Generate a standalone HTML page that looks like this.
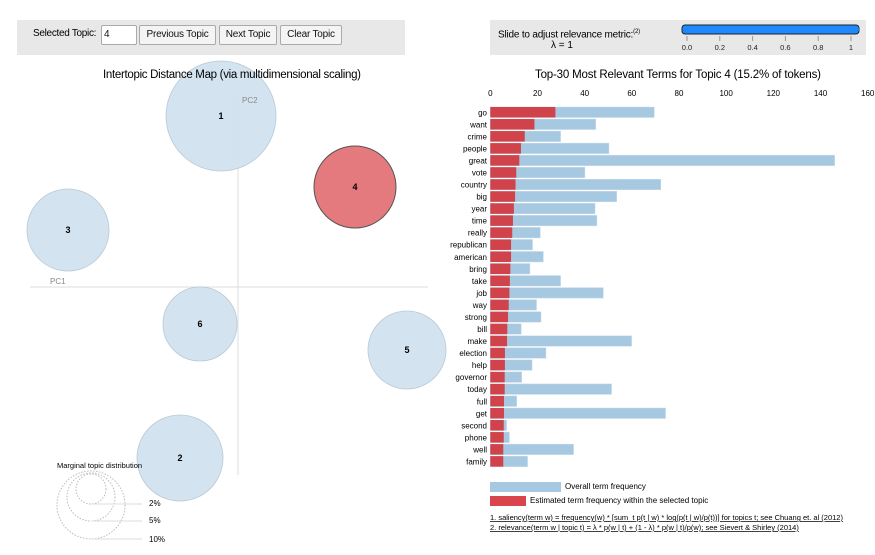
<!DOCTYPE html>
<html><head><meta charset="utf-8">
<style>
body{margin:0;width:875px;height:555px;background:#fff;font-family:"Liberation Sans",Arial,sans-serif;overflow:hidden;position:relative}
.box{position:absolute;background:#e8e8e8}
.btn{position:absolute;top:25px;height:18px;border:1px solid #aaa;border-radius:2px;background:#f4f4f4;font-size:10px;line-height:18px;text-align:center;color:#111;letter-spacing:-0.2px}
</style></head><body>
<div class="box" style="left:17px;top:20px;width:388px;height:35px"></div>
<div style="position:absolute;left:33px;top:28px;font-size:10px;letter-spacing:-0.3px">Selected Topic:</div>
<div class="btn" style="left:101px;width:32px;text-align:left;padding-left:2px;background:#fff">4</div>
<div class="btn" style="left:139px;width:75px">Previous Topic</div>
<div class="btn" style="left:219px;width:56px">Next Topic</div>
<div class="btn" style="left:280px;width:60px">Clear Topic</div>
<div class="box" style="left:490px;top:20px;width:376px;height:35px"></div>
<div style="position:absolute;left:498px;top:29px;font-size:10px;letter-spacing:-0.2px">Slide to adjust relevance metric:<sup style="font-size:6px">(2)</sup></div>
<div style="position:absolute;left:551px;top:40px;font-size:10px">λ = 1</div>
<svg style="position:absolute;left:0;top:0" width="875" height="555">
<g>
<rect x="682" y="25" width="177" height="9" rx="3" fill="#1e88ff" stroke="#222" stroke-width="1"/>
<circle cx="855" cy="29.5" r="4" fill="#1e88ff"/>
</g>
<g id="slticks" font-size="7.5" fill="#222" text-anchor="middle"></g>
<line x1="238" y1="95" x2="238" y2="475" stroke="#ddd"/>
<line x1="30" y1="287" x2="428" y2="287" stroke="#ddd"/>
<g id="topics"></g>
<text x="242" y="103" font-size="8" fill="#888">PC2</text>
<text x="50" y="284" font-size="8" fill="#888">PC1</text>
<text x="232" y="78" font-size="11.5" text-anchor="middle" textLength="258">Intertopic Distance Map (via multidimensional scaling)</text>
<text x="678" y="78" font-size="11.5" text-anchor="middle" textLength="286">Top-30 Most Relevant Terms for Topic 4 (15.2% of tokens)</text>
<g>
<text x="57" y="468" font-size="7.5">Marginal topic distribution</text>
<g fill="none" stroke="#bbb" stroke-dasharray="1.5,1.5">
<circle cx="91" cy="489" r="15"/><circle cx="91" cy="497" r="24"/><circle cx="91" cy="505" r="34"/></g>
<g stroke="#ddd"><line x1="91" y1="504" x2="142" y2="504"/><line x1="91" y1="521" x2="142" y2="521"/><line x1="91" y1="539" x2="142" y2="539"/></g>
<g font-size="8"><text x="149" y="506">2%</text><text x="149" y="523">5%</text><text x="149" y="542">10%</text></g>
</g>
<g id="xticks" font-size="8" text-anchor="middle"></g>
<g id="bars"></g>
<g>
<rect x="490" y="482" width="71" height="10" fill="#a6c8e0"/>
<text x="565" y="489" font-size="8">Overall term frequency</text>
<rect x="490" y="496" width="36" height="10" fill="#d9454d"/>
<text x="530" y="503" font-size="8">Estimated term frequency within the selected topic</text>
<text x="490" y="520" font-size="7.5" text-decoration="underline">1. saliency(term w) = frequency(w) * [sum_t p(t | w) * log(p(t | w)/p(t))] for topics t; see Chuang et. al (2012)</text>
<text x="490" y="530" font-size="7.5" text-decoration="underline">2. relevance(term w | topic t) = λ * p(w | t) + (1 - λ) * p(w | t)/p(w); see Sievert &amp; Shirley (2014)</text>
</g>
</svg>
<script>
const terms=["go","want","crime","people","great","vote","country","big","year","time","really","republican","american","bring","take","job","way","strong","bill","make","election","help","governor","today","full","get","second","phone","well","family"];
const overall=[69.5,44.7,29.8,50.3,146,40.1,72.3,53.6,44.4,45.2,21.2,17.9,22.5,16.8,29.8,47.9,19.6,21.5,13.1,59.9,23.6,17.7,13.3,51.4,11.2,74.3,6.9,8.1,35.3,15.8];
const topicFreq=[27.6,18.7,14.6,13.0,12.3,11.0,10.7,10.5,10.0,9.6,9.3,8.8,8.8,8.5,8.3,8.1,7.8,7.5,7.2,7.1,6.2,6.2,6.1,6.1,5.8,5.8,5.7,5.7,5.5,5.5];
const xTicks=[0,20,40,60,80,100,120,140,160];
const topicIds=[1,2,3,4,5,6];
const topicX=[221,180,68,355,407,200];
const topicY=[116,458,230,187,350,324];
const topicR=[55,43,41,41,39,37];
const sliderTicks=["0.0","0.2","0.4","0.6","0.8","1"];
const NS="http://www.w3.org/2000/svg";
function mk(t,a,p){const e=document.createElementNS(NS,t);for(const k in a)e.setAttribute(k,a[k]);p.appendChild(e);return e;}
const xs=v=>490.3+v*377.4/160, ys=i=>107+i*12.04;
const xt=document.getElementById('xticks');
xTicks.forEach(v=>{const t=mk('text',{x:xs(v),y:96},xt);t.textContent=v;

});
const sl=document.getElementById('slticks');
sliderTicks.forEach((s,i)=>{const x=687+i*32.8;mk('line',{x1:x,y1:36,x2:x,y2:41,stroke:'#999'},sl);const t=mk('text',{x:x,y:50},sl);t.textContent=s;

});
const bg=document.getElementById('bars');
terms.forEach((w,i)=>{const y=ys(i);
const b=mk('rect',{x:xs(0),y:y,width:xs(overall[i])-xs(0),height:10.5,fill:'#a6c8e0',stroke:'#c9dced','stroke-width':0.5},bg);


const r=mk('rect',{x:xs(0),y:y,width:xs(topicFreq[i])-xs(0),height:10.5,fill:'#d0434b'},bg);


const t=mk('text',{x:487,y:y+8.3,'font-size':8,'text-anchor':'end'},bg);t.textContent=w;

});
const tg=document.getElementById('topics');
topicIds.forEach((id,i)=>{const sel=id===4;
const c=mk('circle',{cx:topicX[i],cy:topicY[i],r:topicR[i],fill:sel?'#e57a7e':'#cfe0ee',stroke:sel?'#555':'#b8c8d4','stroke-width':sel?1:0.8,'fill-opacity':sel?1:0.9},tg);


const t=mk('text',{x:topicX[i],y:topicY[i]+3,'font-size':9,'font-weight':'bold','text-anchor':'middle'},tg);t.textContent=id;

});
</script>
</body></html>
